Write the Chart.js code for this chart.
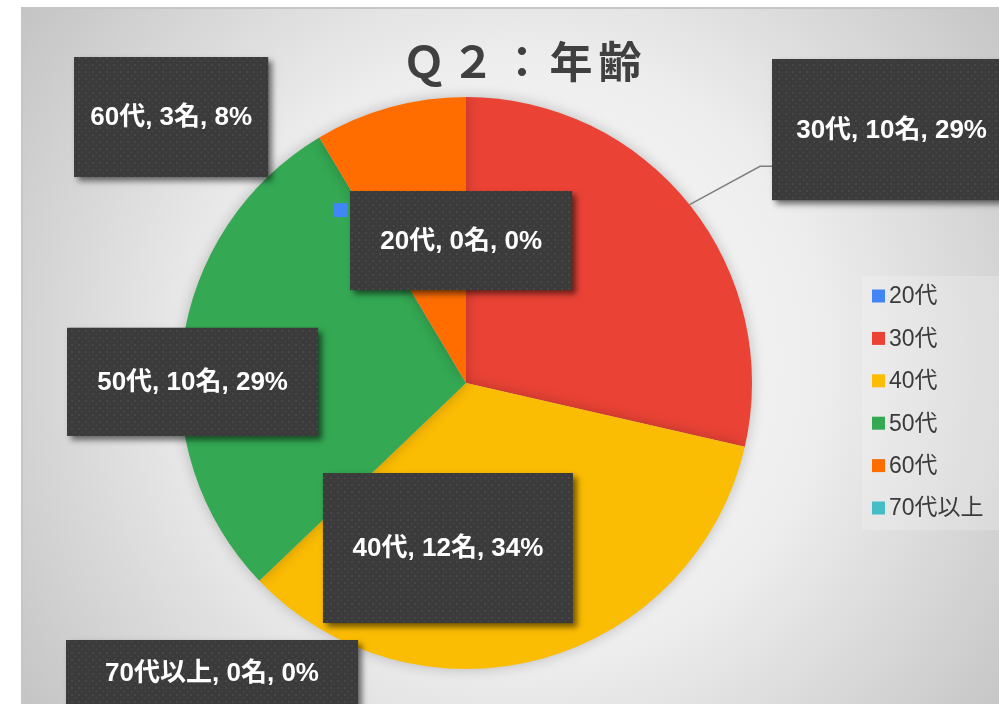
<!DOCTYPE html>
<html>
<head>
<meta charset="utf-8">
<script src="https://cdn.jsdelivr.net/npm/chart.js@4.4.1/dist/chart.umd.min.js"></script>
<style>
  html, body { margin: 0; padding: 0; background: #fff; }
  canvas { display: block; }
</style>
</head>
<body>
<canvas id="ageChart" width="999" height="704"></canvas>
<script>
// Q2 age breakdown
const titleText = "Ｑ２：年齢";
const categories = ["20代", "30代", "40代", "50代", "60代", "70代以上"];
const counts = [0, 10, 12, 10, 3, 0];
const percents = [0, 29, 34, 29, 8, 0]; // as printed on the labels
const colors = ["#4285F4", "#EA4335", "#FBBC04", "#34A853", "#FF6D01", "#46BDC6"];

// where each label box sits, relative to pie centre (in radii) + box size in px
const labelPlace = [
  { dx: -0.017, dy: -0.498, w: 222, h: 99, key: true },
  { dx: 1.488, dy: -0.886, w: 239, h: 141, leader: true },
  { dx: -0.063, dy: 0.577, w: 250, h: 150 },
  { dx: -0.956, dy: -0.004, w: 251, h: 108 },
  { dx: -1.031, dy: -0.930, w: 194, h: 120 },
  { dx: -0.888, dy: 1.014, w: 292, h: 66 }
];

const FONT = '"Liberation Sans", Arial, "Noto Sans CJK JP", sans-serif';
const CJK = '"Noto Sans CJK JP", "Liberation Sans", sans-serif';

function dotPattern(ctx) {
  const c = document.createElement("canvas");
  c.width = 7; c.height = 7;
  const p = c.getContext("2d");
  p.fillStyle = "#3b3b3b";
  p.fillRect(0, 0, 7, 7);
  p.fillStyle = "#474747";
  p.fillRect(1, 1, 2, 2);
  p.fillRect(4.5, 4.5, 1.5, 1.5);
  return ctx.createPattern(c, "repeat");
}

const backdrop = {
  id: "backdrop",
  beforeDraw(chart) {
    const ctx = chart.ctx;
    ctx.save();
    ctx.fillStyle = "#fff";
    ctx.fillRect(0, 0, chart.width, chart.height);
    const g = ctx.createRadialGradient(520, 360, 0, 520, 360, 660);
    g.addColorStop(0, "#fbfbfb");
    g.addColorStop(0.45, "#eeeeee");
    g.addColorStop(1, "#bdbdbd");
    ctx.fillStyle = g;
    ctx.fillRect(22, 8, chart.width - 22, chart.height - 8);
    ctx.strokeStyle = "#c6c6c6";
    ctx.lineWidth = 2;
    ctx.beginPath();
    ctx.moveTo(22, chart.height);
    ctx.lineTo(22, 8);
    ctx.lineTo(chart.width, 8);
    ctx.stroke();

    // title, spaced like the original
    ctx.fillStyle = "#404040";
    ctx.font = "bold 43px " + CJK;
    ctx.textBaseline = "middle";
    const gap = 6;
    const chars = Array.from(titleText);
    let total = -gap;
    chars.forEach(ch => total += ctx.measureText(ch).width + gap);
    let x = 522 - total / 2;
    chars.forEach(ch => {
      ctx.fillText(ch, x, 62);
      x += ctx.measureText(ch).width + gap;
    });
    ctx.restore();
  },
  beforeDatasetsDraw(chart) {
    const ctx = chart.ctx;
    ctx.save();
    ctx.shadowColor = "rgba(0,0,0,0.22)";
    ctx.shadowBlur = 14;
  },
  afterDatasetsDraw(chart) {
    chart.ctx.restore();
  }
};

const dataLabels = {
  id: "dataLabels",
  afterDatasetsDraw(chart) {
    const ctx = chart.ctx;
    const arcs = chart.getDatasetMeta(0).data;
    const pat = dotPattern(ctx);
    arcs.forEach((arc, i) => {
      const pl = labelPlace[i];
      const r = arc.outerRadius;
      const cx = arc.x + pl.dx * r;
      const cy = arc.y + pl.dy * r;
      const left = cx - pl.w / 2, top = cy - pl.h / 2;

      if (pl.leader) {
        const mid = (arc.startAngle + arc.endAngle) / 2;
        const sx = arc.x + Math.cos(mid) * r;
        const sy = arc.y + Math.sin(mid) * r;
        const ey = top + pl.h * 0.76;
        ctx.save();
        ctx.strokeStyle = "#7f7f7f";
        ctx.lineWidth = 1.5;
        ctx.beginPath();
        ctx.moveTo(sx, sy);
        ctx.lineTo(left - 12, ey);
        ctx.lineTo(left, ey);
        ctx.stroke();
        ctx.restore();
      }

      ctx.save();
      ctx.shadowColor = "rgba(0,0,0,0.55)";
      ctx.shadowBlur = 6;
      ctx.shadowOffsetX = 4;
      ctx.shadowOffsetY = 4;
      ctx.fillStyle = "#3b3b3b";
      ctx.fillRect(left, top, pl.w, pl.h);
      ctx.restore();
      ctx.save();
      ctx.fillStyle = pat;
      ctx.fillRect(left, top, pl.w, pl.h);
      ctx.restore();

      if (pl.key) {
        ctx.fillStyle = colors[i];
        ctx.fillRect(left - 17, top + 12, 14, 14);
      }

      ctx.save();
      ctx.fillStyle = "#ffffff";
      ctx.font = "bold 26px " + FONT;
      ctx.textAlign = "center";
      ctx.textBaseline = "middle";
      ctx.fillText(categories[i] + ", " + counts[i] + "名, " + percents[i] + "%", cx, cy + 1);
      ctx.restore();
    });
  }
};

const legendBox = {
  id: "legendBox",
  afterDraw(chart) {
    const ctx = chart.ctx;
    ctx.save();
    ctx.fillStyle = "rgba(255,255,255,0.2)";
    ctx.fillRect(862, 276, 140, 254);
    ctx.font = "23px " + FONT;
    ctx.textBaseline = "middle";
    categories.forEach((c, i) => {
      const y = 296 + i * 42.4;
      ctx.fillStyle = colors[i];
      ctx.fillRect(872, y - 6.5, 13, 13);
      ctx.fillStyle = "#3a3a3a";
      ctx.fillText(c, 889, y + 1);
    });
    ctx.restore();
  }
};

const ageChart = new Chart("ageChart", {
  type: "pie",
  data: {
    labels: categories,
    datasets: [{
      data: counts,
      backgroundColor: colors,
      borderWidth: 0
    }]
  },
  options: {
    responsive: false,
    animation: false,
    devicePixelRatio: 1,
    layout: { padding: { left: 180, right: 247, top: 97, bottom: 35 } },
    plugins: {
      legend: { display: false },
      title: { display: false },
      tooltip: { enabled: false }
    }
  },
  plugins: [backdrop, dataLabels, legendBox]
});
</script>
</body>
</html>
